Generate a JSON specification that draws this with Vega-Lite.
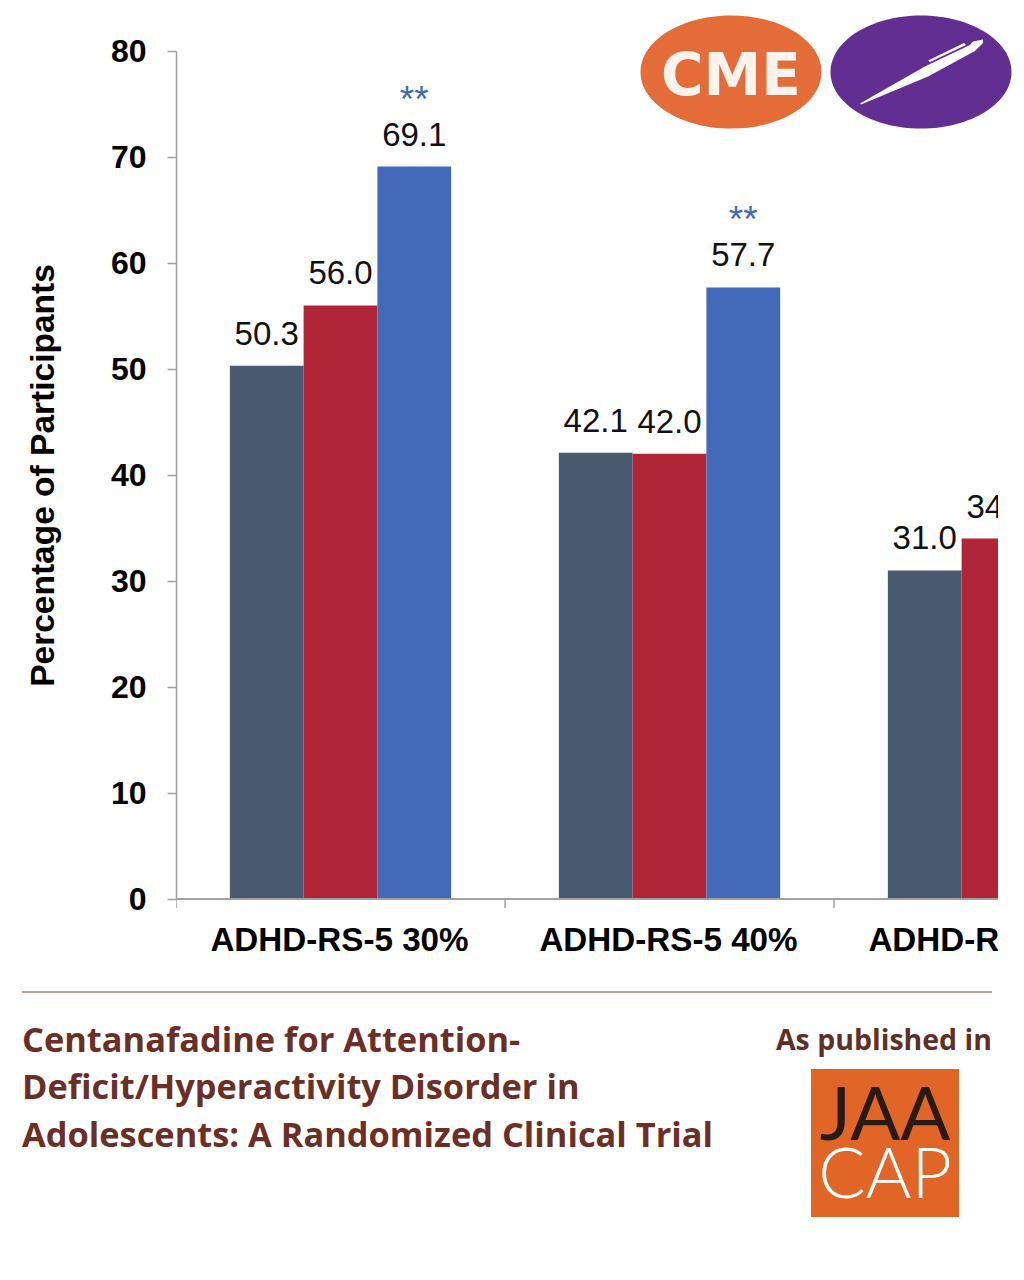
{"$schema":"https://vega.github.io/schema/vega-lite/v6.json","width":822,"height":910,"autosize":{"type":"none"},"padding":{"left":176,"top":51,"right":26,"bottom":319},"background":"white","config":{"view":{"stroke":null},"font":"Liberation Sans"},
"datasets":{"rows":[
{"category":"ADHD-RS-5 30%","group":"Placebo","value":50.3,"label":"50.3"},
{"category":"ADHD-RS-5 30%","group":"Centanafadine 164.4 mg","value":56.0,"label":"56.0"},
{"category":"ADHD-RS-5 30%","group":"Centanafadine 328.8 mg","value":69.1,"label":"69.1","sig":"**"},
{"category":"ADHD-RS-5 40%","group":"Placebo","value":42.1,"label":"42.1"},
{"category":"ADHD-RS-5 40%","group":"Centanafadine 164.4 mg","value":42.0,"label":"42.0"},
{"category":"ADHD-RS-5 40%","group":"Centanafadine 328.8 mg","value":57.7,"label":"57.7","sig":"**"},
{"category":"ADHD-RS-5 50%","group":"Placebo","value":31.0,"label":"31.0"},
{"category":"ADHD-RS-5 50%","group":"Centanafadine 164.4 mg","value":34.0,"label":"34.0"}],
"categories":[{"category":"ADHD-RS-5 30%"},{"category":"ADHD-RS-5 40%"},{"category":"ADHD-RS-5 50%"}]},
"data":{"name":"rows"},
"layer":[
{"mark":{"type":"bar","clip":true},"encoding":{
"x":{"field":"category","type":"nominal","axis":null,"scale":{"domain":["ADHD-RS-5 30%","ADHD-RS-5 40%","ADHD-RS-5 50%"],"range":[0,987],"paddingInner":0,"paddingOuter":0}},
"xOffset":{"field":"group","type":"nominal","scale":{"domain":["Placebo","Centanafadine 164.4 mg","Centanafadine 328.8 mg"],"paddingInner":0,"paddingOuter":0.73}},
"y":{"field":"value","type":"quantitative","scale":{"domain":[0,80],"range":[848,0],"nice":false},"axis":{"title":"Percentage of Participants","titleFont":"Liberation Sans","titleFontSize":33.5,"titleFontWeight":"bold","titleColor":"black","titlePadding":50,"labelFont":"Liberation Sans","labelFontSize":32,"labelFontWeight":"bold","labelColor":"black","labelPadding":21,"values":[0,10,20,30,40,50,60,70,80],"grid":false,"tickSize":9,"tickColor":"#a0a0a0","domainColor":"#a0a0a0","tickWidth":1.5,"domainWidth":1.5}},
"color":{"field":"group","type":"nominal","legend":null,"scale":{"domain":["Placebo","Centanafadine 164.4 mg","Centanafadine 328.8 mg"],"range":["#4a5a70","#b12538","#426ab8"]}}}},
{"mark":{"type":"text","clip":true,"fontSize":33,"color":"#111111","baseline":"alphabetic","dy":-21},"encoding":{
"x":{"field":"category","type":"nominal"},
"xOffset":{"field":"group","type":"nominal"},
"y":{"field":"value","type":"quantitative"},
"text":{"field":"label","type":"nominal"}}},
{"transform":[{"filter":"datum.sig"}],"mark":{"type":"text","fontSize":37,"color":"#426ab8","baseline":"alphabetic","dy":-55,"dx":0},"encoding":{
"x":{"field":"category","type":"nominal"},
"xOffset":{"field":"group","type":"nominal"},
"y":{"field":"value","type":"quantitative"},
"text":{"field":"sig","type":"nominal"}}},
{"data":{"name":"categories"},"mark":{"type":"rule","color":"#a0a0a0","strokeWidth":1.5,"clip":true},"encoding":{"y":{"datum":0}}},
{"data":{"name":"categories"},"mark":{"type":"rule","color":"#a0a0a0","strokeWidth":1.5,"clip":true},"encoding":{"x":{"field":"category","type":"nominal","bandPosition":0},"y":{"datum":0},"y2":{"datum":-0.85}}},
{"data":{"name":"categories"},"mark":{"type":"text","clip":true,"fontSize":33.2,"fontWeight":"bold","color":"black","baseline":"alphabetic","dx":-1},"encoding":{"x":{"field":"category","type":"nominal"},"y":{"datum":-4.9},"text":{"field":"category","type":"nominal"}}},
{"data":{"values":[{"a":1}]},"mark":{"type":"rule","color":"#a9837a","strokeWidth":1.3},"encoding":{"x":{"value":-154},"x2":{"value":816},"y":{"value":941}}},
{"data":{"values":[{"t":"Centanafadine for Attention-"}]},"mark":{"type":"text","font":"Open Sans","fontWeight":"bold","fontSize":34.4,"color":"#6b2f27","align":"left","baseline":"alphabetic"},"encoding":{"x":{"value":-154},"y":{"value":1001},"text":{"field":"t"}}},
{"data":{"values":[{"t":"Deficit/Hyperactivity Disorder in"}]},"mark":{"type":"text","font":"Open Sans","fontWeight":"bold","fontSize":34.4,"color":"#6b2f27","align":"left","baseline":"alphabetic"},"encoding":{"x":{"value":-154},"y":{"value":1048},"text":{"field":"t"}}},
{"data":{"values":[{"t":"Adolescents: A Randomized Clinical Trial"}]},"mark":{"type":"text","font":"Open Sans","fontWeight":"bold","fontSize":34.4,"color":"#6b2f27","align":"left","baseline":"alphabetic"},"encoding":{"x":{"value":-154},"y":{"value":1096},"text":{"field":"t"}}},
{"data":{"values":[{"t":"As published in"}]},"mark":{"type":"text","font":"Open Sans","fontWeight":"bold","fontSize":28.5,"color":"#5f3029","align":"right","baseline":"alphabetic"},"encoding":{"x":{"value":816},"y":{"value":999},"text":{"field":"t"}}},
{"data":{"values":[{"n":"JAACAP"}]},"mark":{"type":"point","shape":"square","filled":true,"opacity":1,"color":"#e26528","size":21904},"encoding":{"x":{"value":709},"y":{"value":1092}}},
{"data":{"values":[{"t":"JAA"}]},"mark":{"type":"text","font":"Lato","fontWeight":400,"fontSize":74,"color":"#2a1a14","align":"center","baseline":"alphabetic"},"encoding":{"x":{"value":709},"y":{"value":1089},"text":{"field":"t"}}},
{"data":{"values":[{"t":"CAP"}]},"mark":{"type":"text","font":"Lato","fontWeight":300,"fontSize":70,"color":"white","align":"center","baseline":"alphabetic"},"encoding":{"x":{"value":709},"y":{"value":1147},"text":{"field":"t"}}},
{"data":{"values":[{"n":"CME"}]},"mark":{"type":"point","shape":"M-1,0A1,0.625,0,1,1,1,0A1,0.625,0,1,1,-1,0Z","filled":true,"opacity":1,"color":"#e46c38","size":32761},"encoding":{"x":{"value":555},"y":{"value":21}}},
{"data":{"values":[{"t":"CME"}]},"mark":{"type":"text","font":"DejaVu Sans","fontWeight":"bold","fontSize":58,"color":"#fdf3ec","align":"center","baseline":"alphabetic"},"encoding":{"x":{"value":555},"y":{"value":44},"text":{"field":"t"}}},
{"data":{"values":[{"n":"pen badge"}]},"mark":{"type":"point","shape":"M-1,0A1,0.625,0,1,1,1,0A1,0.625,0,1,1,-1,0Z","filled":true,"opacity":1,"color":"#622e91","size":32761},"encoding":{"x":{"value":745},"y":{"value":21}}},
{"data":{"values":[{"n":"pen"}]},"mark":{"type":"point","shape":"M-0.678,0.35L0.033,-0.056L0.1,-0.089L0.544,-0.3L0.578,-0.34L0.689,-0.36L0.689,-0.322L0.6,-0.233L0.078,0.05L-0.667,0.36ZM0.078,-0.128L0.478,-0.321L0.5,-0.3L0.1,-0.111Z","filled":true,"opacity":1,"color":"white","size":32400},"encoding":{"x":{"value":745},"y":{"value":21}}}
]}
